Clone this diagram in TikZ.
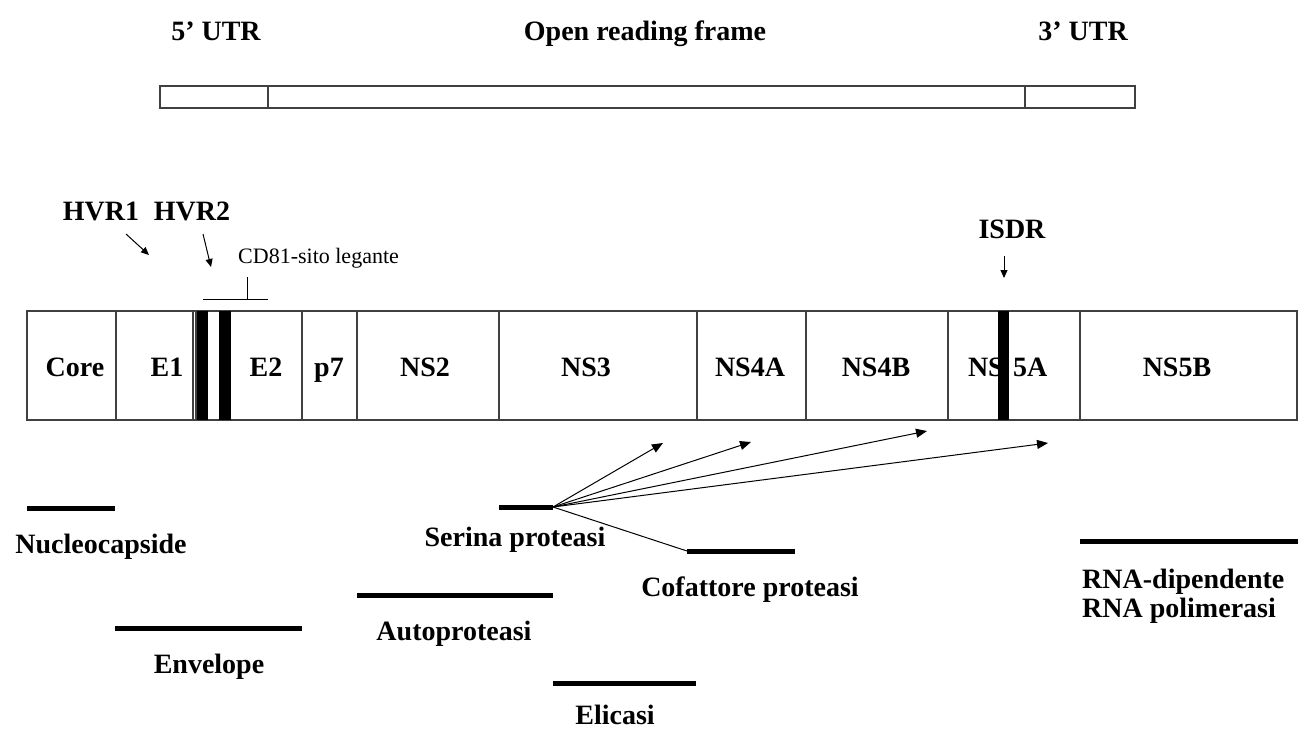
\documentclass[tikz,border=0pt]{standalone}
\usepackage{fontspec}
\setmainfont{Liberation Serif}
\usetikzlibrary{arrows.meta}
\begin{document}
\begin{tikzpicture}[x=1pt,y=-1pt,
 lbl/.style={font=\fontsize{28}{31}\selectfont\bfseries, inner sep=0pt, text height=19pt, text depth=6pt},
 thin/.style={font=\fontsize{22}{25}\selectfont, inner sep=0pt},
 seg/.style={draw=black!75, line width=1.2pt},
 bar/.style={line width=5pt},
 arr/.style={-{Triangle[length=11pt,width=9pt]}, line width=1pt},
 sarr/.style={-{Triangle[length=8pt,width=7pt]}, line width=1pt}]
\useasboundingbox (0,0) rectangle (1298,731);
% top genome bar
\draw[seg] (160,86) rectangle (1135,108);
\draw[seg] (268,86) -- (268,108);
\draw[seg] (1025,86) -- (1025,108);
\node[lbl] (utr5) at (216,34) {5' UTR};
\node[lbl] (orf) at (645,34) {Open reading frame};
\node[lbl] (utr3) at (1083,34) {3' UTR};
% polyprotein
\draw[seg] (27,311) rectangle (1297,420);
\foreach \x in {116,193,196,302,357,499,697,806,948,1080}
  \draw[seg] (\x,311) -- (\x,420);
\node[lbl] (core) at (75,370) {Core};
\node[lbl] (e1) at (167,370) {E1};
\node[lbl] (e2) at (266,370) {E2};
\node[lbl] (p7) at (329,370) {p7};
\node[lbl] (ns2) at (425,370) {NS2};
\node[lbl] (ns3) at (586,370) {NS3};
\node[lbl] (ns4a) at (750,370) {NS4A};
\node[lbl] (ns4b) at (876,370) {NS4B};
\node[lbl, anchor=east] (ns5a1) at (1004,370) {NS};
\node[lbl, anchor=west] (ns5a2) at (1013,370) {5A};
\node[lbl] (ns5b) at (1177,370) {NS5B};
\fill (197,311) rectangle (208,420);
\fill (219,311) rectangle (231,420);
\fill (998,311) rectangle (1009,420);
% HVR and CD81
\node[lbl] (hvr1) at (101,214) {HVR1};
\node[lbl] (hvr2) at (192,214) {HVR2};
\coordinate (h1a) at (126,234); \coordinate (h1b) at (149,255);
\coordinate (h2a) at (203,234); \coordinate (h2b) at (211,267);
\draw[sarr] (h1a) -- (h1b);
\draw[sarr] (h2a) -- (h2b);
\node[thin, anchor=west] (cd81) at (238,258) {CD81-sito legante};
\coordinate (cdt) at (247,277); \coordinate (cdb) at (247,299);
\coordinate (cdl) at (203,299); \coordinate (cdr) at (268,299);
\draw[line width=1pt] (cdt) -- (cdb);
\draw[line width=1pt] (cdl) -- (cdr);
% ISDR
\node[lbl] (isdr) at (1012,232) {ISDR};
\coordinate (isa) at (1004,256); \coordinate (isb) at (1004,278);
\draw[sarr] (isa) -- (isb);
% functions
\coordinate (spl) at (499,507); \coordinate (sp) at (553,507);
\draw[bar] (spl) -- (sp);
\node[lbl] (serina) at (515,540) {Serina proteasi};
\coordinate (t1) at (663,443);
\coordinate (t2) at (751,442);
\coordinate (t3) at (927,431);
\coordinate (t4) at (1048,443);
\foreach \t in {t1,t2,t3,t4} \draw[arr] (sp) -- (\t);
\coordinate (cofl) at (687,551); \coordinate (cofr) at (795,551);
\draw[line width=1pt] (sp) -- (cofl);
\draw[bar] (cofl) -- (cofr);
\node[lbl] (cof) at (750,590) {Cofattore proteasi};
\draw[bar] (27,508) -- (115,508);
\node[lbl] (nuc) at (101,547) {Nucleocapside};
\draw[bar] (115,628) -- (302,628);
\node[lbl] (env) at (209,667) {Envelope};
\draw[bar] (357,595) -- (553,595);
\node[lbl] (auto) at (454,634) {Autoproteasi};
\draw[bar] (553,683) -- (696,683);
\node[lbl] (eli) at (615,718) {Elicasi};
\draw[bar] (1080,541) -- (1298,541);
\node[lbl, anchor=west] (rna1) at (1082,582) {RNA-dipendente};
\node[lbl, anchor=west] (rna2) at (1082,611) {RNA polimerasi};
\end{tikzpicture}
\end{document}
